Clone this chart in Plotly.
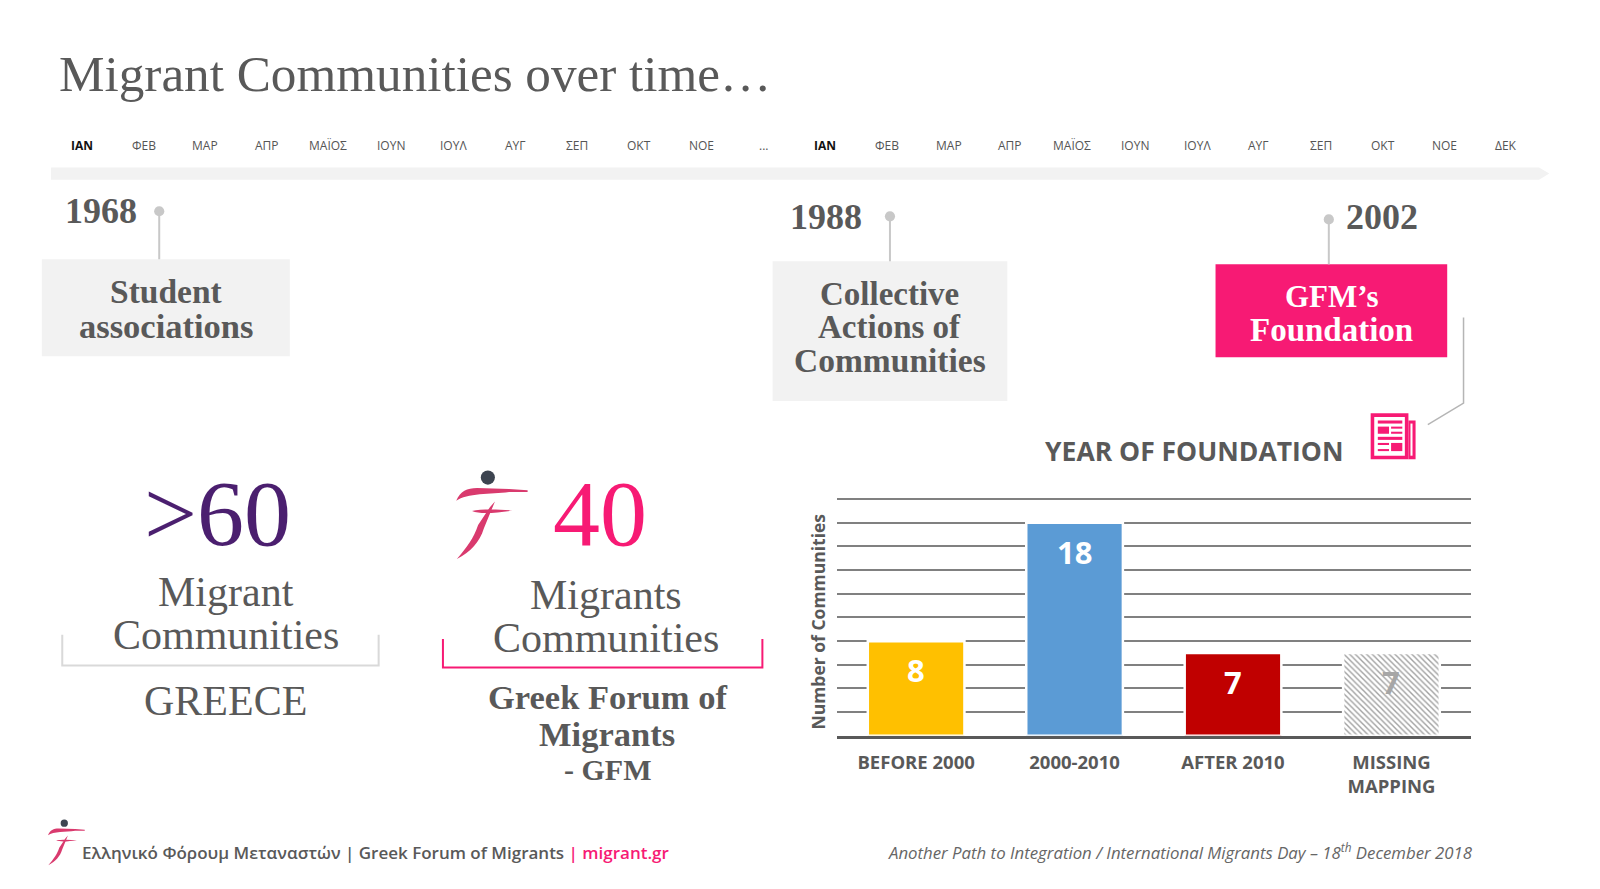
import plotly.graph_objects as go

# ---------- data ----------
categories = ["BEFORE 2000", "2000-2010", "AFTER 2010", "MISSING MAPPING"]
tick_labels = ["BEFORE 2000", "2000-2010", "AFTER 2010", "MISSING<br>MAPPING"]
values = [8, 18, 7, 7]
bar_colors = ["#FFC000", "#5B9BD5", "#C00000", "#FFFFFF"]
value_colors = ["#FFFFFF", "#FFFFFF", "#FFFFFF", "#A6A6A6"]
months = ["ΙΑΝ", "ΦΕΒ", "ΜΑΡ", "ΑΠΡ", "ΜΑΪΟΣ", "ΙΟΥΝ", "ΙΟΥΛ", "ΑΥΓ", "ΣΕΠ", "ΟΚΤ", "ΝΟΕ", "...",
          "ΙΑΝ", "ΦΕΒ", "ΜΑΡ", "ΑΠΡ", "ΜΑΪΟΣ", "ΙΟΥΝ", "ΙΟΥΛ", "ΑΥΓ", "ΣΕΠ", "ΟΚΤ", "ΝΟΕ", "ΔΕΚ"]
month_x = [80, 141, 201, 262, 321, 383, 444, 505, 565, 626, 687, 748,
           808, 869, 930, 990, 1050, 1112, 1173, 1233, 1294, 1355, 1415, 1476]

W, H = 1600, 889
K = 1.0206  # layout measured on a scaled view
GREY = "#595959"
PINK = "#F71A74"
LOGO = "#D93A6E"
SERIF = "Liberation Serif"
SANS = "Open Sans"

def px(x): return x * K / W
def py(y): return 1 - y * K / H

annotations, shapes = [], []

def txt(x, y, s, size, color=GREY, family=SERIF, weight=400, anchor="center", italic=False, angle=0):
    annotations.append(dict(
        xref="paper", yref="paper", x=px(x), y=py(y), text=s, showarrow=False,
        xanchor=anchor, yanchor="middle", align=anchor, textangle=angle,
        font=dict(family=family, size=size, color=color, weight=weight,
                  style="italic" if italic else "normal")))

def rect(x0, y0, x1, y1, fill):
    shapes.append(dict(type="rect", xref="paper", yref="paper", x0=px(x0), x1=px(x1),
                       y0=py(y0), y1=py(y1), fillcolor=fill, line=dict(width=0), layer="below"))

def poly(points, color, width=1.5):
    path = "M" + " L".join(f"{px(a)},{py(b)}" for a, b in points)
    shapes.append(dict(type="path", xref="paper", yref="paper", path=path,
                       line=dict(color=color, width=width), layer="below"))

def dot(x, y, r, fill):
    shapes.append(dict(type="circle", xref="paper", yref="paper", x0=px(x - r), x1=px(x + r),
                       y0=py(y - r), y1=py(y + r), fillcolor=fill, line=dict(width=0), layer="below"))

def logo(x0, y0, s):
    def P(x, y): return f"{px(x0 + (x - 78) * s)},{py(y0 + (y - 63) * s)}"
    dot(x0 + (172 - 78) * s, y0 + (84 - 63) * s, 21 * s, "#3D4450")
    strokes = [
        f"M{P(78,153)} C{P(90,125)} {P(110,115)} {P(140,115)} L{P(235,118)} L{P(290,122)} L{P(290,127)} "
        f"L{P(235,127)} C{P(180,134)} {P(110,130)} {P(78,153)} Z",
        f"M{P(125,183)} C{P(150,178)} {P(200,178)} {P(245,182)} C{P(200,188)} {P(150,194)} {P(125,183)} Z",
        f"M{P(193,155)} L{P(160,235)} C{P(148,275)} {P(120,305)} {P(80,326)} "
        f"C{P(110,290)} {P(130,265)} {P(143,225)} L{P(178,172)} Z",
    ]
    for p in strokes:
        shapes.append(dict(type="path", xref="paper", yref="paper", path=p,
                           fillcolor=LOGO, line=dict(width=0), layer="below"))

# title
txt(55.5, 72, "Migrant Communities over time…", 51.2, color=GREY, anchor="left")

# timeline
for m, x in zip(months, month_x):
    active = m == "ΙΑΝ"
    txt(x, 143, m, 12, color="#111111" if active else "#555555", family=SANS,
        weight=700 if active else 400)
shapes.append(dict(type="path", xref="paper", yref="paper",
                   path=f"M{px(50)},{py(164)} L{px(1508)},{py(164)} L{px(1518)},{py(170)} "
                        f"L{px(1508)},{py(176)} L{px(50)},{py(176)} Z",
                   fillcolor="#F2F2F2", line=dict(width=0), layer="below"))

# milestones
rect(41, 254, 284, 349, "#F2F2F2")
rect(757, 256, 987, 393, "#F2F2F2")
rect(1191, 259, 1418, 350, PINK)
for x, y0, y1 in [(156, 207, 254), (872, 212, 256), (1302, 215, 259)]:
    poly([(x, y0), (x, y1)], "#C8C8C8", 2)
    dot(x, y0, 5, "#C8C8C8")
txt(99, 207, "1968", 36, weight=700)
txt(809, 213, "1988", 36, weight=700)
txt(1354, 213, "2002", 36, weight=700)
txt(163, 286, "Student", 33.5, weight=700)
txt(163, 319, "associations", 34.5, weight=700)
txt(872, 288, "Collective", 33, weight=700)
txt(872, 320, "Actions of", 33, weight=700)
txt(872, 353, "Communities", 33.5, weight=700)
txt(1305, 291, "GFM’s", 31, color="#FFFFFF", weight=700)
txt(1305, 323, "Foundation", 33, color="#FFFFFF", weight=700)

# connector & newspaper icon
poly([(1434, 311), (1434, 395), (1399, 416)], "#B5B5B5", 1.5)
rect(1343, 405, 1380, 450, PINK)
rect(1380, 412, 1387, 450, PINK)
rect(1346.5, 408.5, 1376.5, 446.5, "#FFFFFF")
rect(1382, 415, 1384, 446.5, "#FFFFFF")
rect(1350, 412, 1374, 415, PINK)
rect(1350, 418, 1361, 425, PINK)
rect(1363, 418, 1374, 420, PINK)
rect(1363, 423, 1374, 425, PINK)
rect(1350, 428, 1374, 431, PINK)
rect(1350, 434, 1361, 436, PINK)
rect(1350, 440, 1361, 442, PINK)
rect(1363, 434, 1374, 442, PINK)

# big numbers
txt(213, 503, ">60", 94, color="#4B1F6F")
txt(221, 580, "Migrant", 42)
txt(221, 622, "Communities", 42)
poly([(61, 622), (61, 652), (371, 652), (371, 622)], "#D9D9D9", 2)
txt(221, 687, "GREECE", 42)

logo(447, 461, 0.33)
txt(588, 503, "40", 94, color=PINK)
txt(594, 583, "Migrants", 42)
txt(594, 625, "Communities", 42)
poly([(434, 626), (434, 654), (747, 654), (747, 626)], PINK, 2)
txt(595, 683, "Greek Forum of", 34.5, weight=700)
txt(595, 719, "Migrants", 34.5, weight=700)
txt(595, 754, "- GFM", 30, weight=700)

# footer
logo(47, 803, 0.17)
txt(78.5, 835, f"Ελληνικό Φόρουμ Μεταναστών | Greek Forum of Migrants "
               f"<span style='color:{PINK}'>| migrant.gr</span>", 17, family=SANS, weight=600, anchor="left")
txt(1445, 834.5, "Another Path to Integration / International Migrants Day – 18<sup>th</sup> December 2018",
    16.8, color="#666666", family=SANS, anchor="right", italic=True)

# chart title and axis title
txt(1170, 442, "YEAR OF FOUNDATION", 26.5, family=SANS, weight=700)
txt(802, 609.5, "Number of Communities", 17.5, family=SANS, weight=700, angle=-90)

# value labels anchored to the data
for c, v, col in zip(categories, values, value_colors):
    annotations.append(dict(xref="x", yref="y", x=c, y=v, yshift=-29, text=str(v), showarrow=False,
                            font=dict(family=SANS, size=31, color=col, weight=700)))

fig = go.Figure(go.Bar(
    x=categories, y=values,
    width=0.61,
    marker=dict(color=bar_colors,
                line=dict(color="#FFFFFF", width=2.5),
                pattern=dict(shape=["", "", "", "\\"], fgcolor="#EBEBEB", bgcolor="#FFFFFF",
                             size=4, solidity=0.35)),
    showlegend=False,
))

fig.update_layout(
    width=W, height=H, margin=dict(l=0, r=0, t=0, b=0),
    paper_bgcolor="#FFFFFF", plot_bgcolor="#FFFFFF",
    annotations=annotations, shapes=shapes,
    xaxis=dict(domain=[px(820), px(1441)], type="category", categoryorder="array",
               categoryarray=categories, tickmode="array", tickvals=categories, ticktext=tick_labels,
               showline=True, linecolor="#595959", linewidth=3, layer="above traces",
               ticks="", ticklabelstandoff=8, tickfont=dict(family=SANS, size=18.5, color=GREY, weight=700),
               showgrid=False, range=[-0.5, 3.5], automargin=False),
    yaxis=dict(domain=[py(721), py(487.8)], range=[0, 20.1], dtick=2, showticklabels=False, ticks="",
               showgrid=True, gridcolor="#808080", gridwidth=1.5, zeroline=False, showline=False,
               automargin=False),
)

fig.write_html("out.html", config={"displayModeBar": False},
               post_script="document.body.style.margin='0';document.body.style.overflow='hidden';")
